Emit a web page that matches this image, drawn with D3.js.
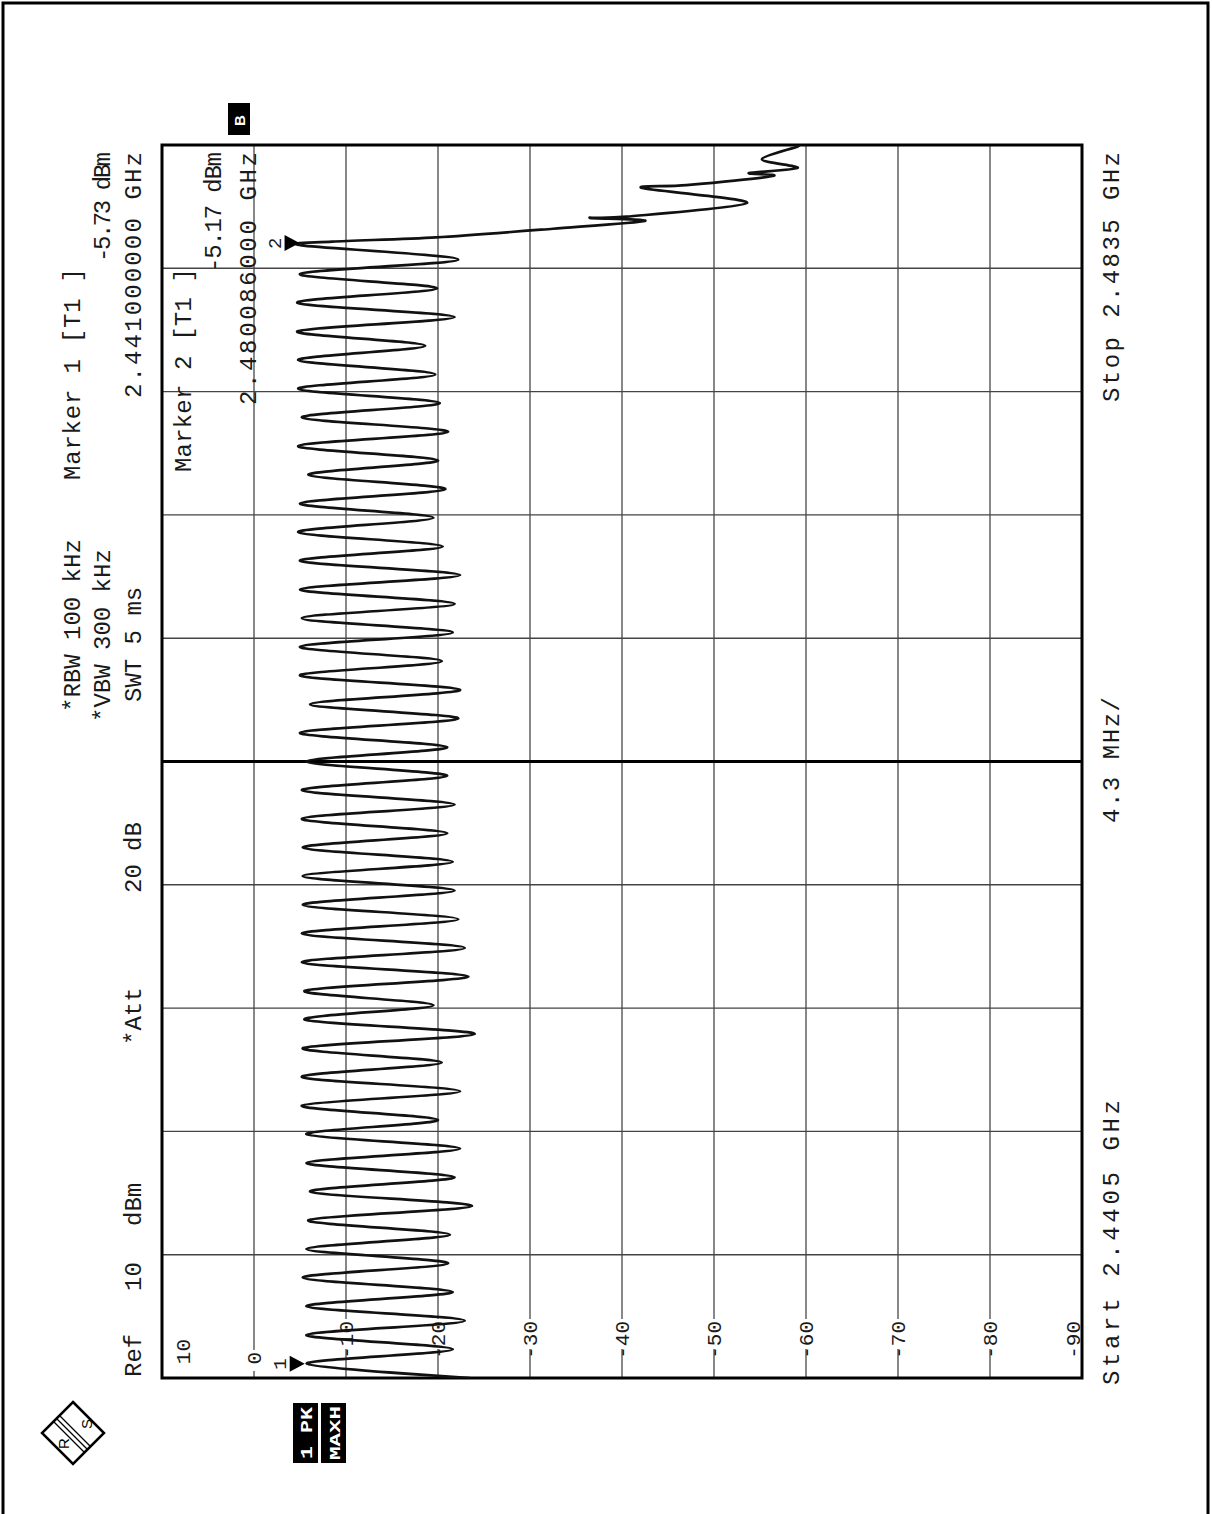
<!DOCTYPE html>
<html><head><meta charset="utf-8">
<script src="https://cdn.jsdelivr.net/npm/d3@7"></script>
<style>html,body{margin:0;padding:0;background:#fff;} svg{display:block}</style>
</head><body>
<svg id="c" width="1212" height="1514"></svg>
<script>
// ---- data ----
const channelMHz = [2441,2442,2443,2444,2445,2446,2447,2448,2449,2450,
  2451,2452,2453,2454,2455,2456,2457,2458,2459,2460,
  2461,2462,2463,2464,2465,2466,2467,2468,2469,2470,
  2471,2472,2473,2474,2475,2476,2477,2478,2479,2480];
const channelPeakDbm = [-5.73,-5.7,-5.7,-5.3,-5.7,-5.9,-6.1,-5.7,-5.7,-5.2,
  -5.2,-5.3,-5.5,-5.5,-5.2,-5.2,-5.3,-5.3,-5.3,-5.2,
  -5.2,-5.7,-5.0,-6.1,-5.0,-5.0,-5.2,-5.0,-5.0,-4.8,
  -5.0,-5.9,-4.8,-5.2,-4.8,-4.8,-4.7,-4.7,-5.0,-5.17];
const gapMHz = [2440.5,2441.5,2442.5,2443.5,2444.5,2445.5,2446.5,2447.5,2448.5,2449.5,
  2450.5,2451.5,2452.5,2453.5,2454.5,2455.5,2456.5,2457.5,2458.5,2459.5,
  2460.5,2461.5,2462.5,2463.5,2464.5,2465.5,2466.5,2467.5,2468.5,2469.5,
  2470.5,2471.5,2472.5,2473.5,2474.5,2475.5,2476.5,2477.5,2478.5,2479.5];
const gapDbm = [-23.5,-21.6,-22.9,-21.6,-21.1,-21.3,-23.7,-21.8,-22.4,-20.0,
  -22.4,-20.4,-24.0,-19.5,-23.3,-22.9,-22.2,-21.8,-21.6,-21.0,
  -21.8,-21.0,-21.0,-22.2,-22.4,-20.4,-21.6,-21.8,-22.4,-20.5,
  -19.5,-20.8,-20.0,-21.1,-20.2,-19.7,-18.6,-21.8,-19.9,-22.2];
const bandEdgeMHz = [2480.13,2480.28,2480.58,2480.85,2480.96,2481.0,2481.48,2482.0,2482.1,2482.42,2482.52,2482.7,2483.0,2483.45,2483.5];
const bandEdgeDbm = [-8.5,-19.8,-32.5,-42.5,-36.5,-40.5,-53.6,-42.2,-47.0,-56.4,-53.8,-59.1,-55.2,-59.1,-58.8];

const levelTicks = [10,0,-10,-20,-30,-40,-50,-60,-70,-80,-90];
const levelTickLabels = ["10","0","-10","-20","-30","-40","-50","-60","-70","-80","-90"];
const freqGridMHz = [2444.8,2449.1,2453.4,2457.7,2462.0,2466.3,2470.6,2474.9,2479.2];
const centerMHz = 2462.0;
const markerNames = ["1","2"];
const markerMHz = [2441.0, 2480.086];
const markerDbm = [-5.73, -5.17];

// ---- drawing ----
const svg = d3.select("#c");
const L = 162, R = 1082, T = 145, B = 1378;
const x = d3.scaleLinear().domain([10,-90]).range([L,R]);
const y = d3.scaleLinear().domain([2440.5,2483.5]).range([B,T]);
const MONO = "'Courier New','Liberation Mono','DejaVu Sans Mono',monospace";
const ink = "#1a1a1a";

// outer border
svg.append("rect").attr("x",3).attr("y",3).attr("width",1205).attr("height",1530)
  .attr("fill","none").attr("stroke","#000").attr("stroke-width",3);

// grid
const g = svg.append("g");
g.selectAll("line.v").data(levelTicks.filter(v=>v<10 && v>-90)).join("line")
  .attr("x1",d=>x(d)).attr("x2",d=>x(d)).attr("y1",T).attr("y2",B)
  .attr("stroke","#555").attr("stroke-width",1.4);
g.selectAll("line.h").data(freqGridMHz).join("line")
  .attr("x1",L).attr("x2",R).attr("y1",d=>y(d)).attr("y2",d=>y(d))
  .attr("stroke",d=>d===centerMHz?"#000":"#444")
  .attr("stroke-width",d=>d===centerMHz?3:1.4);

// level labels (rotated)
const lab = svg.append("g").attr("font-family",MONO).attr("font-size",21).attr("fill",ink);
levelTicks.forEach((v,i)=>{
  const t = levelTickLabels[i];
  let xc = x(v);
  if (v===10) xc = 183;
  if (v===-90) xc = 1073;
  const yEnd = v===10 ? 1339 : (v===0 ? 1352 : 1321);
  const w = t.replace("-","").length*13;
  if (v<10 && v>-90) {
    lab.append("rect").attr("x",xc-9).attr("y",yEnd-2).attr("width",18)
      .attr("height",w+(v===0?8:4)).attr("fill","#fff");
  }
  lab.append("text").attr("transform",`translate(${xc+7},${yEnd}) rotate(-90)`)
    .attr("text-anchor","end").text(t);
});

// frame
svg.append("rect").attr("x",L).attr("y",T).attr("width",R-L).attr("height",B-T)
  .attr("fill","none").attr("stroke","#000").attr("stroke-width",3);

// trace
const pts = channelMHz.map((f,i)=>({f, d:channelPeakDbm[i]}))
  .concat(gapMHz.map((f,i)=>({f, d:gapDbm[i]})))
  .concat(bandEdgeMHz.map((f,i)=>({f, d:bandEdgeDbm[i]})))
  .sort((a,b)=>a.f-b.f);
svg.append("clipPath").attr("id","pc").append("rect")
  .attr("x",L).attr("y",T).attr("width",R-L).attr("height",B-T);
const line = d3.line().x(p=>x(p.d)).y(p=>y(p.f)).curve(d3.curveCardinal.tension(0.1));
svg.append("path").datum(pts).attr("clip-path","url(#pc)")
  .attr("d",line).attr("fill","none").attr("stroke","#111")
  .attr("stroke-width",2.7).attr("stroke-linejoin","round");

// markers
markerMHz.forEach((f,i)=>{
  const mx = x(markerDbm[i]) - 2, my = y(f);
  svg.append("path").attr("d",`M${mx-15},${my-8}L${mx-15},${my+8}L${mx},${my}Z`).attr("fill","#000");
  svg.append("text").attr("transform",`translate(${mx-19},${my+6}) rotate(-90)`)
    .attr("font-family",MONO).attr("font-size",19).attr("fill",ink).text(markerNames[i]);
});

// header / footer texts
function vtext(str, xb, y0, y1, size){
  const t = svg.append("text").attr("transform",`translate(${xb},${y0}) rotate(-90)`)
    .attr("font-family",MONO).attr("font-size",size||24).attr("fill",ink)
    .style("white-space","pre").text(str);
  if (y1 != null) t.attr("textLength",y0-y1).attr("lengthAdjust","spacing");
}
vtext("*RBW 100 kHz", 80, 712);
vtext("Marker 1 [T1 ]", 80, 480, 268);
vtext("*VBW 300 kHz", 110, 722);
vtext("-5.73 dBm", 110, 262, 152);
vtext("SWT 5 ms", 141, 702);
vtext("2.441000000 GHz", 141, 398, 152);
vtext("Ref", 141, 1377);
vtext("10", 141, 1291);
vtext("dBm", 141, 1226);
vtext("*Att", 141, 1045);
vtext("20", 141, 893);
vtext("dB", 141, 851);
vtext("Marker 2 [T1 ]", 191, 472, 268);
vtext("-5.17 dBm", 221, 272, 152);
vtext("2.480086000 GHz", 256, 405, 152);
vtext("Start 2.4405 GHz", 1119, 1385, 1100);
vtext("4.3 MHz/", 1119, 823, 697);
vtext("Stop 2.4835 GHz", 1119, 402, 152);

// "B" box
svg.append("rect").attr("x",228).attr("y",103).attr("width",22).attr("height",32).attr("fill","#000");
svg.append("text").attr("transform","translate(245,126) rotate(-90)")
  .attr("font-family","Liberation Sans,Arial,sans-serif").attr("font-weight","bold")
  .attr("font-size",15).attr("fill","#fff").text("B");

// trace info boxes
svg.append("rect").attr("x",293).attr("y",1403).attr("width",25).attr("height",60).attr("fill","#000");
svg.append("rect").attr("x",321).attr("y",1403).attr("width",25).attr("height",60).attr("fill","#000");
svg.append("text").attr("transform","translate(312,1459) rotate(-90)")
  .attr("font-family",MONO).attr("font-weight","bold").attr("font-size",16).attr("fill","#fff")
  .attr("textLength",52).attr("lengthAdjust","spacingAndGlyphs").text("1 PK");
svg.append("text").attr("transform","translate(340,1460) rotate(-90)")
  .attr("font-family",MONO).attr("font-weight","bold").attr("font-size",14).attr("fill","#fff")
  .attr("textLength",54).attr("lengthAdjust","spacingAndGlyphs").text("MAXH");

// R&S logo
const lg = svg.append("g").attr("transform","translate(73,1433)");
lg.append("path").attr("d","M0,-31L31,0L0,31L-31,0Z").attr("fill","#fff").attr("stroke","#000").attr("stroke-width",2.5);
[-3,0,3].forEach(o=>{
  lg.append("line").attr("x1",-16+o).attr("y1",-14-o).attr("x2",14+o).attr("y2",16-o)
    .attr("stroke","#000").attr("stroke-width",1.3);
});
lg.append("text").attr("transform","translate(-4,16) rotate(-90)").attr("font-family","Liberation Sans,Arial,sans-serif")
  .attr("font-size",15).attr("fill","#000").text("R");
lg.append("text").attr("transform","translate(19,-4) rotate(-90)").attr("font-family","Liberation Sans,Arial,sans-serif")
  .attr("font-size",15).attr("fill","#000").text("S");
</script>
</body></html>
